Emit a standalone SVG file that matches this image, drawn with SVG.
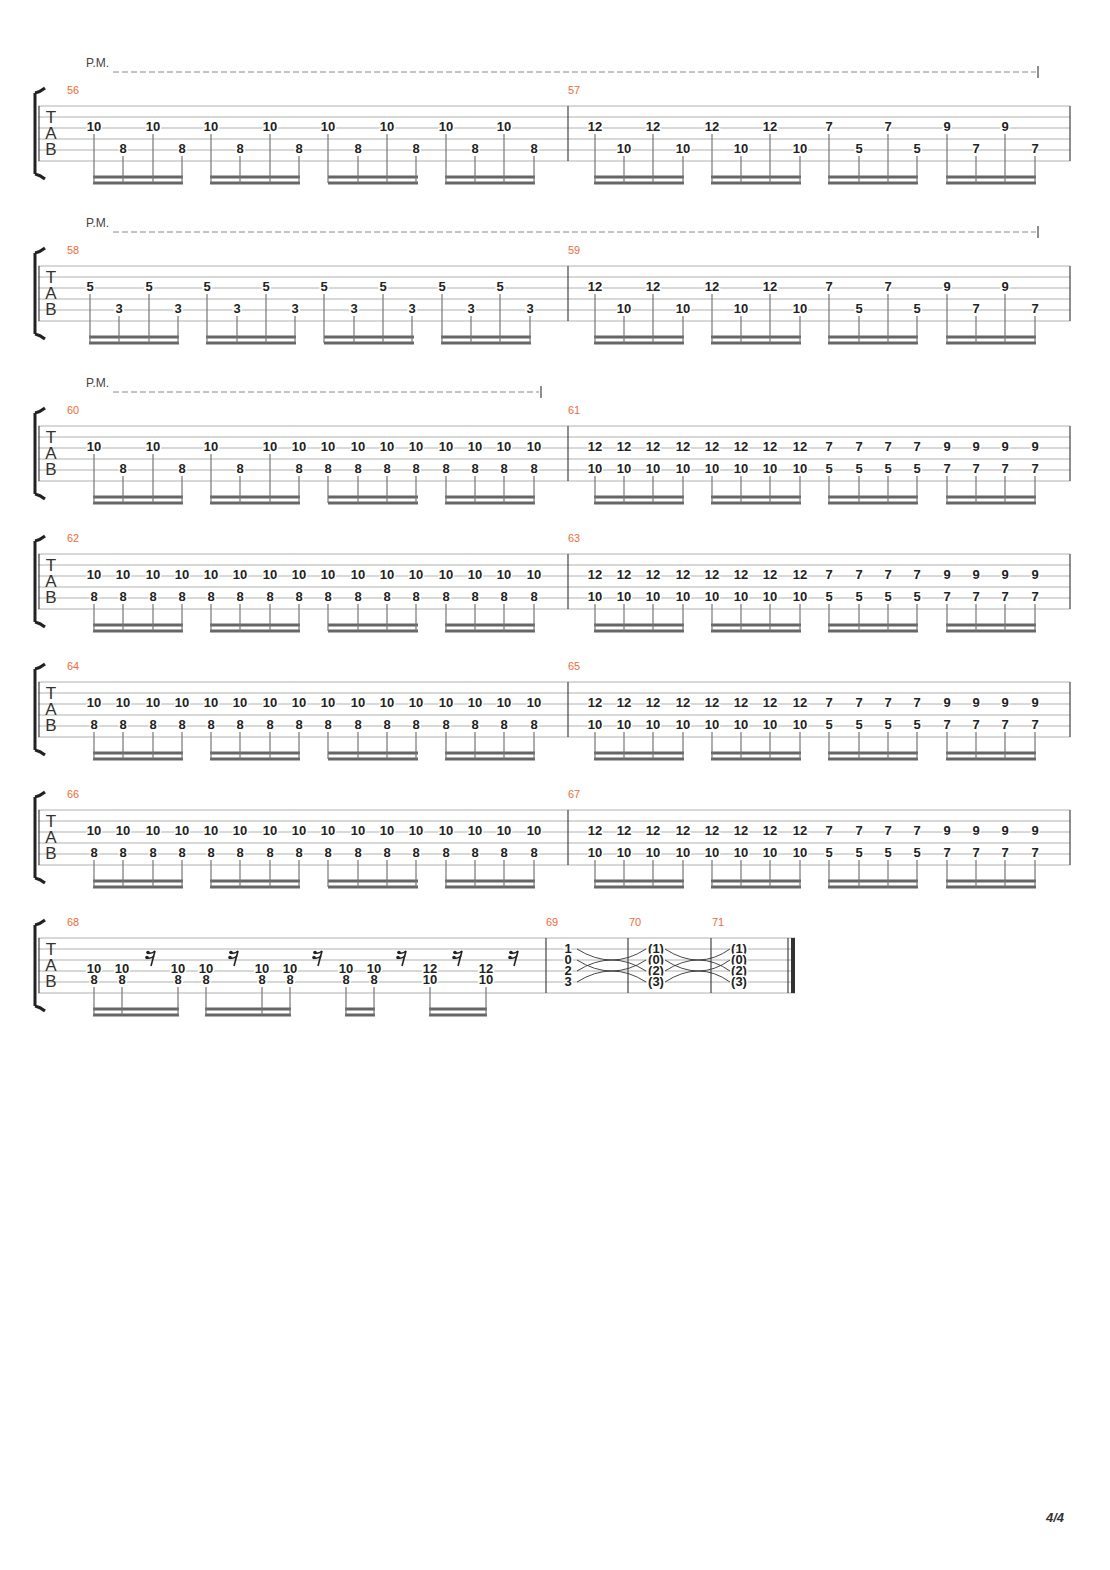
<svg xmlns="http://www.w3.org/2000/svg" width="1110" height="1570" viewBox="0 0 1110 1570">
<style>
.st{stroke:#b0b0b0;stroke-width:1;fill:none}
.bar{stroke:#444;stroke-width:1.2}
.stem{stroke:#777;stroke-width:1.2;fill:none}
.beam{stroke:#666;stroke-width:3;fill:none}
.n{font-family:"Liberation Sans",Arial,sans-serif;font-weight:bold;font-size:13px;fill:#222;text-anchor:middle;stroke:#fff;stroke-width:3;paint-order:stroke}
.m{font-family:"Liberation Sans",Arial,sans-serif;font-size:11px;fill:#f26b3a}
.pm{font-family:"Liberation Sans",Arial,sans-serif;font-size:12px;fill:#444}
.pml{stroke:#888;stroke-width:1;stroke-dasharray:6 3}
.tab{font-family:"Liberation Sans",Arial,sans-serif;font-size:17px;fill:#333;text-anchor:middle}
.br{stroke:#222;stroke-width:3;fill:none}
.rest{fill:none;stroke:#222;stroke-width:1.6}
.tie{stroke:#333;stroke-width:0.9;fill:none}
</style>
<defs>
<g id="staff">
<path class="st" d="M38 0H1070M38 11H1070M38 22H1070M38 33H1070M38 44H1070M38 55H1070"/>
<path class="br" d="M35 -13V68M35 -13Q40 -14 45 -18M35 68Q40 69 45 73"/>
<line class="bar" x1="39" y1="0" x2="39" y2="55"/>
<line class="bar" x1="568" y1="0" x2="568" y2="55"/>
<line class="bar" x1="1070" y1="0" x2="1070" y2="55"/>
<text class="tab" x="51" y="17">T</text><text class="tab" x="51" y="33">A</text><text class="tab" x="51" y="49">B</text>
<path class="beam" d="M93 71H183M93 77H183M210 71H300M210 77H300M328 71H418M328 77H418M445 71H535M445 77H535M594 71H684M594 77H684M711 71H801M711 77H801M828 71H918M828 77H918M946 71H1036M946 77H1036"/>
</g>
<g id="m57">
<path class="stem" d="M595 28V77M653 28V77M712 28V77M770 28V77M829 28V77M888 28V77M947 28V77M1005 28V77M624 50V77M683 50V77M741 50V77M800 50V77M859 50V77M917 50V77M976 50V77M1035 50V77"/>
<text class="n" x="595" y="24.5">12</text><text class="n" x="653" y="24.5">12</text><text class="n" x="712" y="24.5">12</text><text class="n" x="770" y="24.5">12</text><text class="n" x="829" y="24.5">7</text><text class="n" x="888" y="24.5">7</text><text class="n" x="947" y="24.5">9</text><text class="n" x="1005" y="24.5">9</text>
<text class="n" x="624" y="46.5">10</text><text class="n" x="683" y="46.5">10</text><text class="n" x="741" y="46.5">10</text><text class="n" x="800" y="46.5">10</text><text class="n" x="859" y="46.5">5</text><text class="n" x="917" y="46.5">5</text><text class="n" x="976" y="46.5">7</text><text class="n" x="1035" y="46.5">7</text>
</g>
<g id="c1">
<path class="stem" d="M94 50V77M123 50V77M153 50V77M182 50V77M211 50V77M240 50V77M270 50V77M299 50V77M328 50V77M358 50V77M387 50V77M416 50V77M446 50V77M475 50V77M504 50V77M534 50V77"/>
<g transform="translate(0,24.5)"><text class="n" x="94">10</text><text class="n" x="123">10</text><text class="n" x="153">10</text><text class="n" x="182">10</text><text class="n" x="211">10</text><text class="n" x="240">10</text><text class="n" x="270">10</text><text class="n" x="299">10</text><text class="n" x="328">10</text><text class="n" x="358">10</text><text class="n" x="387">10</text><text class="n" x="416">10</text><text class="n" x="446">10</text><text class="n" x="475">10</text><text class="n" x="504">10</text><text class="n" x="534">10</text></g>
<g transform="translate(0,46.5)"><text class="n" x="94">8</text><text class="n" x="123">8</text><text class="n" x="153">8</text><text class="n" x="182">8</text><text class="n" x="211">8</text><text class="n" x="240">8</text><text class="n" x="270">8</text><text class="n" x="299">8</text><text class="n" x="328">8</text><text class="n" x="358">8</text><text class="n" x="387">8</text><text class="n" x="416">8</text><text class="n" x="446">8</text><text class="n" x="475">8</text><text class="n" x="504">8</text><text class="n" x="534">8</text></g>
</g>
<g id="c2">
<path class="stem" d="M595 50V77M624 50V77M653 50V77M683 50V77M712 50V77M741 50V77M770 50V77M800 50V77M829 50V77M859 50V77M888 50V77M917 50V77M947 50V77M976 50V77M1005 50V77M1035 50V77"/>
<g transform="translate(0,24.5)"><text class="n" x="595">12</text><text class="n" x="624">12</text><text class="n" x="653">12</text><text class="n" x="683">12</text><text class="n" x="712">12</text><text class="n" x="741">12</text><text class="n" x="770">12</text><text class="n" x="800">12</text><text class="n" x="829">7</text><text class="n" x="859">7</text><text class="n" x="888">7</text><text class="n" x="917">7</text><text class="n" x="947">9</text><text class="n" x="976">9</text><text class="n" x="1005">9</text><text class="n" x="1035">9</text></g>
<g transform="translate(0,46.5)"><text class="n" x="595">10</text><text class="n" x="624">10</text><text class="n" x="653">10</text><text class="n" x="683">10</text><text class="n" x="712">10</text><text class="n" x="741">10</text><text class="n" x="770">10</text><text class="n" x="800">10</text><text class="n" x="829">5</text><text class="n" x="859">5</text><text class="n" x="888">5</text><text class="n" x="917">5</text><text class="n" x="947">7</text><text class="n" x="976">7</text><text class="n" x="1005">7</text><text class="n" x="1035">7</text></g>
</g>
<g id="r16">
<path class="rest" d="M4 -14L0 1"/>
<path class="rest" d="M4 -14Q1 -11 -3 -12M3 -9Q0 -6 -4 -7"/>
<circle cx="-3" cy="-12.5" r="1.8" fill="#222"/><circle cx="-4" cy="-7.5" r="1.8" fill="#222"/>
</g>
</defs>

<g id="sys1">
<text class="pm" x="86" y="67">P.M.</text>
<line class="pml" x1="113" y1="72" x2="1036" y2="72"/><line class="bar" x1="1038" y1="66" x2="1038" y2="78"/>
<text class="m" x="67" y="94">56</text><text class="m" x="568" y="94">57</text>
<g transform="translate(0,106)">
<use href="#staff"/>
<path class="stem" d="M94 28V77M153 28V77M211 28V77M270 28V77M328 28V77M387 28V77M446 28V77M504 28V77M123 50V77M182 50V77M240 50V77M299 50V77M358 50V77M416 50V77M475 50V77M534 50V77"/>
<g transform="translate(0,24.5)"><text class="n" x="94">10</text><text class="n" x="153">10</text><text class="n" x="211">10</text><text class="n" x="270">10</text><text class="n" x="328">10</text><text class="n" x="387">10</text><text class="n" x="446">10</text><text class="n" x="504">10</text></g>
<g transform="translate(0,46.5)"><text class="n" x="123">8</text><text class="n" x="182">8</text><text class="n" x="240">8</text><text class="n" x="299">8</text><text class="n" x="358">8</text><text class="n" x="416">8</text><text class="n" x="475">8</text><text class="n" x="534">8</text></g>
<use href="#m57"/>
</g>
</g>

<g id="sys2">
<text class="pm" x="86" y="227">P.M.</text>
<line class="pml" x1="113" y1="232" x2="1036" y2="232"/><line class="bar" x1="1038" y1="226" x2="1038" y2="238"/>
<text class="m" x="67" y="254">58</text><text class="m" x="568" y="254">59</text>
<g transform="translate(0,266)">
<path class="st" d="M38 0H1070M38 11H1070M38 22H1070M38 33H1070M38 44H1070M38 55H1070"/>
<path class="br" d="M35 -13V68M35 -13Q40 -14 45 -18M35 68Q40 69 45 73"/>
<line class="bar" x1="39" y1="0" x2="39" y2="55"/><line class="bar" x1="568" y1="0" x2="568" y2="55"/><line class="bar" x1="1070" y1="0" x2="1070" y2="55"/>
<text class="tab" x="51" y="17">T</text><text class="tab" x="51" y="33">A</text><text class="tab" x="51" y="49">B</text>
<path class="beam" d="M89 71H179M89 77H179M206 71H296M206 77H296M324 71H414M324 77H414M441 71H531M441 77H531M594 71H684M594 77H684M711 71H801M711 77H801M828 71H918M828 77H918M946 71H1036M946 77H1036"/>
<path class="stem" d="M90 28V77M149 28V77M207 28V77M266 28V77M324 28V77M383 28V77M442 28V77M500 28V77M119 50V77M178 50V77M237 50V77M295 50V77M354 50V77M412 50V77M471 50V77M530 50V77"/>
<g transform="translate(0,24.5)"><text class="n" x="90">5</text><text class="n" x="149">5</text><text class="n" x="207">5</text><text class="n" x="266">5</text><text class="n" x="324">5</text><text class="n" x="383">5</text><text class="n" x="442">5</text><text class="n" x="500">5</text></g>
<g transform="translate(0,46.5)"><text class="n" x="119">3</text><text class="n" x="178">3</text><text class="n" x="237">3</text><text class="n" x="295">3</text><text class="n" x="354">3</text><text class="n" x="412">3</text><text class="n" x="471">3</text><text class="n" x="530">3</text></g>
<use href="#m57"/>
</g>
</g>

<g id="sys3">
<text class="pm" x="86" y="387">P.M.</text>
<line class="pml" x1="113" y1="392" x2="539" y2="392"/><line class="bar" x1="541" y1="386" x2="541" y2="398"/>
<text class="m" x="67" y="414">60</text><text class="m" x="568" y="414">61</text>
<g transform="translate(0,426)">
<use href="#staff"/>
<path class="stem" d="M94 28V77M153 28V77M211 28V77M270 28V77M123 50V77M182 50V77M240 50V77M299 50V77M328 50V77M358 50V77M387 50V77M416 50V77M446 50V77M475 50V77M504 50V77M534 50V77"/>
<g transform="translate(0,24.5)"><text class="n" x="94">10</text><text class="n" x="153">10</text><text class="n" x="211">10</text><text class="n" x="270">10</text><text class="n" x="299">10</text><text class="n" x="328">10</text><text class="n" x="358">10</text><text class="n" x="387">10</text><text class="n" x="416">10</text><text class="n" x="446">10</text><text class="n" x="475">10</text><text class="n" x="504">10</text><text class="n" x="534">10</text></g>
<g transform="translate(0,46.5)"><text class="n" x="123">8</text><text class="n" x="182">8</text><text class="n" x="240">8</text><text class="n" x="299">8</text><text class="n" x="328">8</text><text class="n" x="358">8</text><text class="n" x="387">8</text><text class="n" x="416">8</text><text class="n" x="446">8</text><text class="n" x="475">8</text><text class="n" x="504">8</text><text class="n" x="534">8</text></g>
<use href="#c2"/>
</g>
</g>

<g id="sys4"><text class="m" x="67" y="542">62</text><text class="m" x="568" y="542">63</text>
<g transform="translate(0,554)"><use href="#staff"/><use href="#c1"/><use href="#c2"/></g></g>
<g id="sys5"><text class="m" x="67" y="670">64</text><text class="m" x="568" y="670">65</text>
<g transform="translate(0,682)"><use href="#staff"/><use href="#c1"/><use href="#c2"/></g></g>
<g id="sys6"><text class="m" x="67" y="798">66</text><text class="m" x="568" y="798">67</text>
<g transform="translate(0,810)"><use href="#staff"/><use href="#c1"/><use href="#c2"/></g></g>

<g id="sys7">
<text class="m" x="67" y="926">68</text><text class="m" x="546" y="926">69</text><text class="m" x="629" y="926">70</text><text class="m" x="712" y="926">71</text>
<g transform="translate(0,938)">
<path class="st" d="M38 0H795M38 11H795M38 22H795M38 33H795M38 44H795M38 55H795"/>
<path class="br" d="M35 -13V68M35 -13Q40 -14 45 -18M35 68Q40 69 45 73"/>
<line class="bar" x1="39" y1="0" x2="39" y2="55"/><line class="bar" x1="546" y1="0" x2="546" y2="55"/><line class="bar" x1="628" y1="0" x2="628" y2="55"/><line class="bar" x1="711" y1="0" x2="711" y2="55"/><line class="bar" x1="788" y1="0" x2="788" y2="55"/>
<rect x="791" y="0" width="4" height="55" fill="#333"/>
<text class="tab" x="51" y="17">T</text><text class="tab" x="51" y="33">A</text><text class="tab" x="51" y="49">B</text>
<path class="beam" d="M93 71H179M93 77H179M205 71H291M205 77H291M345 71H375M345 77H375M429 71H487M429 77H487"/>
<path class="stem" d="M94 49V77M122 49V77M178 49V77M206 49V77M262 49V77M290 49V77M346 49V77M374 49V77M430 49V77M486 49V77"/>
<g transform="translate(0,35)"><text class="n" x="94">10</text><text class="n" x="122">10</text><text class="n" x="178">10</text><text class="n" x="206">10</text><text class="n" x="262">10</text><text class="n" x="290">10</text><text class="n" x="346">10</text><text class="n" x="374">10</text><text class="n" x="430">12</text><text class="n" x="486">12</text></g>
<g transform="translate(0,46)"><text class="n" x="94">8</text><text class="n" x="122">8</text><text class="n" x="178">8</text><text class="n" x="206">8</text><text class="n" x="262">8</text><text class="n" x="290">8</text><text class="n" x="346">8</text><text class="n" x="374">8</text><text class="n" x="430">10</text><text class="n" x="486">10</text></g>
<use href="#r16" x="151" y="27"/><use href="#r16" x="234" y="27"/><use href="#r16" x="318" y="27"/><use href="#r16" x="402" y="27"/><use href="#r16" x="458" y="27"/><use href="#r16" x="514" y="27"/>
<path class="tie" d="M577 11Q612 33 646 11M577 22Q612 44 646 22M577 33Q612 11 646 33M577 44Q612 22 646 44"/>
<path class="tie" d="M665 11Q699 33 730 11M665 22Q699 44 730 22M665 33Q699 11 730 33M665 44Q699 22 730 44"/>
<g transform="translate(0,4)"><text class="n" x="568" y="11">1</text><text class="n" x="568" y="22">0</text><text class="n" x="568" y="33">2</text><text class="n" x="568" y="44">3</text>
<text class="n" x="656" y="11">(1)</text><text class="n" x="656" y="22">(0)</text><text class="n" x="656" y="33">(2)</text><text class="n" x="656" y="44">(3)</text>
<text class="n" x="739" y="11">(1)</text><text class="n" x="739" y="22">(0)</text><text class="n" x="739" y="33">(2)</text><text class="n" x="739" y="44">(3)</text></g>
</g>
</g>

<text x="1055" y="1522" style="font-family:'Liberation Sans',Arial,sans-serif;font-size:13px;font-weight:bold;font-style:italic;fill:#333" text-anchor="middle">4/4</text>
</svg>
